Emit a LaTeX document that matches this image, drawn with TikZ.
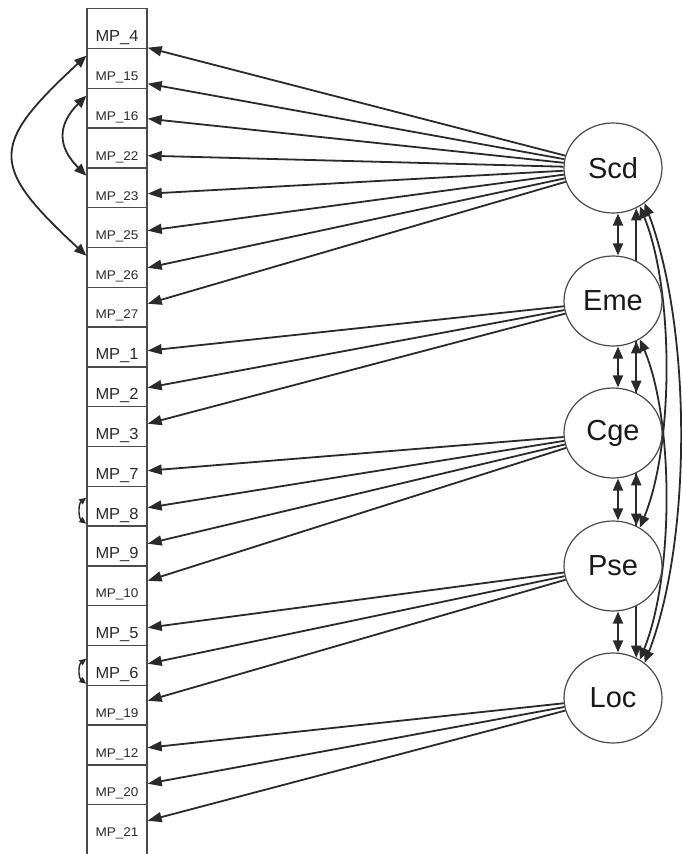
\documentclass[tikz,border=0pt]{standalone}
\usepackage{fontspec}
\usepackage{graphicx}
\setmainfont{Liberation Sans}
\usetikzlibrary{arrows.meta,shapes.geometric}
\pgfdeclarelayer{back}
\pgfsetlayers{back,main}
\definecolor{ink}{HTML}{2a2a2a}
\definecolor{frame}{HTML}{4a4a4a}
% indicator label: font size, drop below the box centre, item number
\newcommand{\mplabel}[3]{\raisebox{-#2pt}[0pt][0pt]{\resizebox{43pt}{\height}{\fontsize{#1pt}{#1pt}\selectfont MP\_#3}}}

\begin{document}
\begin{tikzpicture}[x=1pt,y=-1pt,
  item/.style={draw=frame, line width=1.4pt, minimum width=60pt, minimum height=39.8pt,
               inner sep=0pt, anchor=north, text=ink},
  factor/.style={ellipse, draw=frame, line width=1.2pt, fill=white, minimum width=98pt,
                 minimum height=90pt, inner sep=0pt, text=black!90,
                 font=\fontsize{29pt}{30pt}\selectfont},
  load/.style={draw=ink, line width=1.8pt, -{Triangle[length=14pt,width=10pt]}},
  cov/.style={draw=ink, line width=1.8pt,
              {Triangle[length=12pt,width=10pt]}-{Triangle[length=12pt,width=10pt]}},
  tinycov/.style={draw=ink, line width=1.4pt,
              {Triangle[length=7pt,width=6pt]}-{Triangle[length=7pt,width=6pt]}},
]
\useasboundingbox (0,0) rectangle (681,854);
\clip (0,0) rectangle (681,854);

% indicator column
\foreach \n/\t/\s/\d [count=\i from 0] in {
  mp4/4/16/13, mp15/15/12.6/12.3, mp16/16/12.6/12.3, mp22/22/12.6/12.3,
  mp23/23/12.6/12.3, mp25/25/12.6/12.3, mp26/26/12.6/12.3, mp27/27/12.6/11.5,
  mp1/1/16/12.8, mp2/2/16/12.8, mp3/3/16/12.8, mp7/7/16/12.8,
  mp8/8/16/12.8, mp9/9/16/12.8, mp10/10/12.6/12, mp5/5/16/13.2,
  mp6/6/16/13, mp19/19/12.6/12, mp12/12/12.6/12, mp20/20/12.6/12}
  \node[item] (\n) at (117, {8+39.8*\i}) {\mplabel{\s}{\d}{\t}};
\node[item, minimum height=80pt] (mp21) at (117, 804) {\mplabel{12.6}{-8.5}{21}};

% latent factors
\node[factor] (scd) at (613,168) {Scd};
\node[factor] (eme) at (613,301) {Eme};
\node[factor] (cge) at (613,433) {Cge};
\node[factor] (pse) at (613,566) {Pse};
\node[factor] (loc) at (613,698) {Loc};

% factor loadings
\foreach \f/\n/\s in {
  scd/mp4/-19.1, scd/mp15/-15.3, scd/mp16/-10.5, scd/mp22/-7.7,
  scd/mp23/-5.9, scd/mp25/-3.1, scd/mp26/-0.3, scd/mp27/3.5,
  eme/mp1/-3.7, eme/mp2/-0.9, eme/mp3/2.9,
  cge/mp7/-4.3, cge/mp8/-1.5, cge/mp9/2.3, cge/mp10/5.1,
  pse/mp5/-2.1, pse/mp6/1.7, pse/mp19/4.5,
  loc/mp12/-2.7, loc/mp20/1.1, loc/mp21/24}
  \draw[load] (\f) -- ([yshift=\s pt]\n.east);

% residual covariances among indicators
\draw[cov] ([yshift=12.7pt]mp15.west) .. controls +(-97,90) and +(-97,-90) .. ([yshift=11.7pt]mp26.west);
\draw[cov] ([yshift=12.5pt]mp16.west) .. controls +(-29,29) and +(-29,-29) .. ([yshift=12.1pt]mp23.west);
\draw[tinycov] ([yshift=8.5pt]mp8.west) .. controls +(-8,6) and +(-8,-6) .. ([yshift=-17.5pt]mp8.west);
\draw[tinycov] ([yshift=6.7pt]mp6.west) .. controls +(-8,6) and +(-8,-6) .. ([yshift=-18.3pt]mp6.west);

% factor covariances, drawn beneath the ellipses
\begin{pgfonlayer}{back}
\fill[white] (0,0) rectangle (681,854);
\draw[cov] ([xshift=5pt]scd.south) -- ([xshift=5pt]eme.north);
\draw[cov] ([xshift=5pt]eme.south) -- ([xshift=5pt]cge.north);
\draw[cov] ([xshift=5pt]cge.south) -- ([xshift=5pt]pse.north);
\draw[cov] ([xshift=5pt]pse.south) -- ([xshift=5pt]loc.north);
\draw[cov] (scd.-60) -- (cge.60);
\draw[cov] (eme.-60) -- (pse.60);
\draw[cov] (cge.-60) -- (loc.60);
\draw[cov] (scd.-55) .. controls (674,290) and (674,445) .. (pse.55);
\draw[cov] (eme.-55) .. controls (674,420) and (674,575) .. (loc.55);
\draw[cov] (scd.-48) .. controls (692,330) and (692,540) .. (loc.48);
\end{pgfonlayer}
\end{tikzpicture}
\end{document}
